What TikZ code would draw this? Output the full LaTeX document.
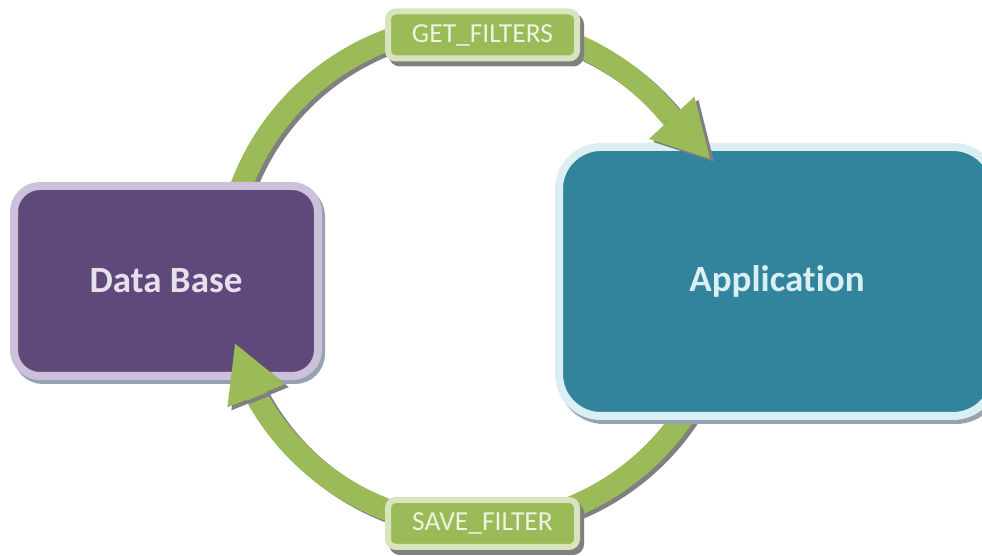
\documentclass[tikz,border=0pt]{standalone}
\usepackage{fontspec}
\setmainfont{Carlito}[Ligatures=CommonOff]
\usetikzlibrary{arrows.meta}

\definecolor{flowgreen}{HTML}{9BBB59}
\definecolor{msgedge}{HTML}{D7E4BD}
\definecolor{msgtext}{HTML}{EEF3E2}
\definecolor{dbfill}{HTML}{5F497A}
\definecolor{dbedge}{HTML}{CCC0DA}
\definecolor{dbtext}{HTML}{E5E0EC}
\definecolor{appfill}{HTML}{31849B}
\definecolor{appedge}{HTML}{DAEEF3}
\definecolor{apptext}{HTML}{DAEEF3}
\definecolor{boxshadow}{HTML}{95A3B3}
\definecolor{flowshadow}{HTML}{808080}

\tikzstyle{store} = [rectangle, rounded corners=26pt, minimum width=304pt, minimum height=190pt, line width=8pt, draw=dbedge, fill=dbfill, text=dbtext, font=\fontsize{37}{44}\selectfont\bfseries,
  preaction={draw=boxshadow, fill=boxshadow, line width=8pt, transform canvas={xshift=3pt, yshift=-4pt}}]
\tikzstyle{program} = [rectangle, rounded corners=42pt, minimum width=436pt, minimum height=269pt, line width=8pt, draw=appedge, fill=appfill, text=apptext, font=\fontsize{37}{44}\selectfont\bfseries,
  preaction={draw=boxshadow, fill=boxshadow, line width=8pt, transform canvas={xshift=3pt, yshift=-4pt}}]
\tikzstyle{msg} = [rectangle, rounded corners=8pt, minimum width=189pt, minimum height=47pt, line width=6pt, draw=msgedge, fill=flowgreen, text=msgtext, font=\fontsize{27.5}{32}\selectfont,
  preaction={draw=flowshadow, fill=flowshadow, line width=6pt, transform canvas={xshift=4pt, yshift=-5pt}}]
\tikzset{
	shaft/.style = {line width=22pt, draw=#1},
	head/.style = {line width=22pt, draw=#1, -{Triangle[length=56pt, width=62pt, line width=0pt]}},
}

\begin{document}
\begin{tikzpicture}[x=1pt, y=1pt]
\useasboundingbox (0,0) rectangle (982,556);
% centre of the request loop
\coordinate (hub) at (476,281);

% loop shafts, shadow first
\begin{scope}[transform canvas={xshift=4pt, yshift=-3pt}]
\draw [shaft=flowshadow] (hub) ++(160:251) arc[start angle=160, end angle=39, radius=251];
\draw [shaft=flowshadow] (hub) ++(-25:251) arc[start angle=-25, end angle=-151, radius=251];
\end{scope}
\draw [shaft=flowgreen] (hub) ++(160:251) arc[start angle=160, end angle=39, radius=251];
\draw [shaft=flowgreen] (hub) ++(-25:251) arc[start angle=-25, end angle=-151, radius=251];

% Placement of the two boxes
\node (db) [store] at (166,275) {Data Base};
\node (app) [program] at (777,274.5) {Application};

% arrow heads sit on top of the boxes
\begin{scope}[transform canvas={xshift=4pt, yshift=-3pt}]
\draw [head=flowshadow] (hub) ++(39:251) -- ++(-47:57);
\draw [head=flowshadow] (hub) ++(-151:251) -- ++(112:57);
\end{scope}
\draw [head=flowgreen] (hub) ++(39:251) -- ++(-47:57);
\draw [head=flowgreen] (hub) ++(-151:251) -- ++(112:57);

% message labels on the loop
\node (getf) [msg] at (482.5,521) {GET\_FILTERS};
\node (savef) [msg] at (482.5,32.5) {SAVE\_FILTER};

\end{tikzpicture}
\end{document}
